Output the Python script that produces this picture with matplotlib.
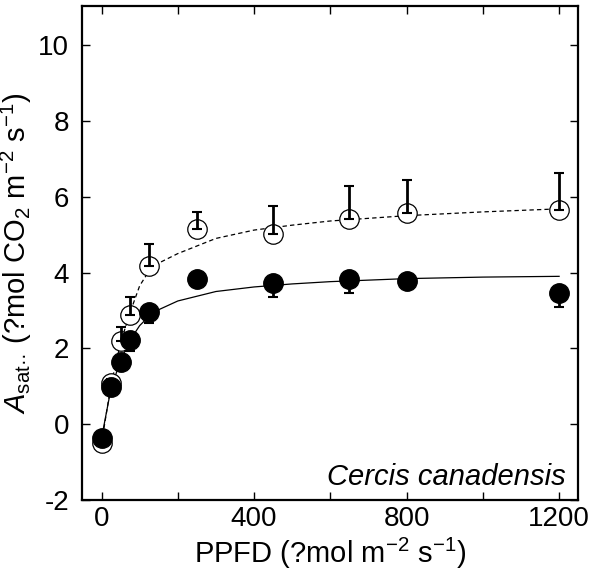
import matplotlib
matplotlib.use("Agg")
import matplotlib.pyplot as plt

# measured light levels (umol m-2 s-1)
ppfd = [0, 25, 50, 75, 125, 250, 450, 650, 800, 1200]

# open circles (upper curve) and their error bars (drawn upwards)
open_mean = [-0.5, 1.08, 2.2, 2.87, 4.18, 5.15, 5.02, 5.42, 5.56, 5.65]
open_err = [0.05, 0.12, 0.36, 0.48, 0.56, 0.46, 0.73, 0.85, 0.88, 0.98]

# filled circles (lower curve) and their error bars (drawn downwards)
filled_mean = [-0.37, 0.97, 1.63, 2.21, 2.96, 3.83, 3.73, 3.82, 3.79, 3.46]
filled_err = [0.05, 0.1, 0.12, 0.28, 0.3, 0.2, 0.37, 0.36, 0.15, 0.37]

# fitted light-response curves
fit_x = [0, 25, 50, 75, 100, 125, 150, 200, 300, 400, 500, 600, 800, 1000, 1200]
fit_open = [-0.5, 1.05, 2.15, 2.95, 3.65, 4.05, 4.25, 4.5, 4.9, 5.12, 5.25, 5.36, 5.5, 5.6, 5.68]
fit_filled = [-0.37, 0.95, 1.68, 2.22, 2.6, 2.85, 3.02, 3.25, 3.5, 3.62, 3.7, 3.76, 3.84, 3.88, 3.9]

x_ticks = [0, 200, 400, 600, 800, 1000, 1200]
x_tick_labels = ["0", "", "400", "", "800", "", "1200"]
y_ticks = [-2, 0, 2, 4, 6, 8, 10]

plt.rcParams["font.family"] = ["Liberation Sans", "DejaVu Sans"]
plt.rcParams["mathtext.fontset"] = "custom"
plt.rcParams["mathtext.rm"] = "Liberation Sans"
plt.rcParams["mathtext.it"] = "Liberation Sans:italic"
plt.rcParams["axes.unicode_minus"] = False

fig = plt.figure(figsize=(5.92, 5.79), dpi=100)
ax = fig.add_axes([0.138, 0.1364, 0.838, 0.8532])

# fitted curves
ax.plot(fit_x, fit_open, color="black", linewidth=0.9, dashes=(3.5, 2.5), zorder=2)
ax.plot(fit_x, fit_filled, color="black", linewidth=0.9, zorder=2)

# open symbols with upward error bars
ax.plot(ppfd, open_mean, linestyle="none", marker="o", markersize=14,
        markerfacecolor="white", markeredgecolor="black", markeredgewidth=0.9, zorder=3)
ax.errorbar(ppfd, open_mean, yerr=[[0] * len(open_err), open_err], fmt="none",
            ecolor="black", elinewidth=2.0, capsize=3.5, capthick=1.5, zorder=4)

# filled symbols with downward error bars
ax.errorbar(ppfd, filled_mean, yerr=[filled_err, [0] * len(filled_err)], fmt="none",
            ecolor="black", elinewidth=2.0, capsize=3.5, capthick=1.5, zorder=5)
ax.plot(ppfd, filled_mean, linestyle="none", marker="o", markersize=14,
        markerfacecolor="black", markeredgecolor="black", zorder=6)

ax.set_xlim(-52, 1249)
ax.set_ylim(-2, 11.03)
ax.set_xticks(x_ticks)
ax.set_xticklabels(x_tick_labels)
ax.set_yticks(y_ticks)

ax.tick_params(direction="in", length=6, width=1, top=True, right=True,
               labelsize=20)
ax.tick_params(axis="x", pad=4)
ax.tick_params(axis="y", pad=9)
for spine in ax.spines.values():
    spine.set_linewidth(1.6)

ax.set_xlabel("PPFD (?mol m$^{-2}$ s$^{-1}$)", fontsize=21, labelpad=3)
ax.set_ylabel("$A_{\\mathrm{sat\u00b7\u00b7}}$ (?mol CO$_2$ m$^{-2}$ s$^{-1}$)",
              fontsize=21, labelpad=3)

ax.text(0.975, 0.03, "Cercis canadensis", transform=ax.transAxes,
        ha="right", va="baseline", fontsize=21, fontstyle="italic")

fig.savefig("out.png", dpi=100)
